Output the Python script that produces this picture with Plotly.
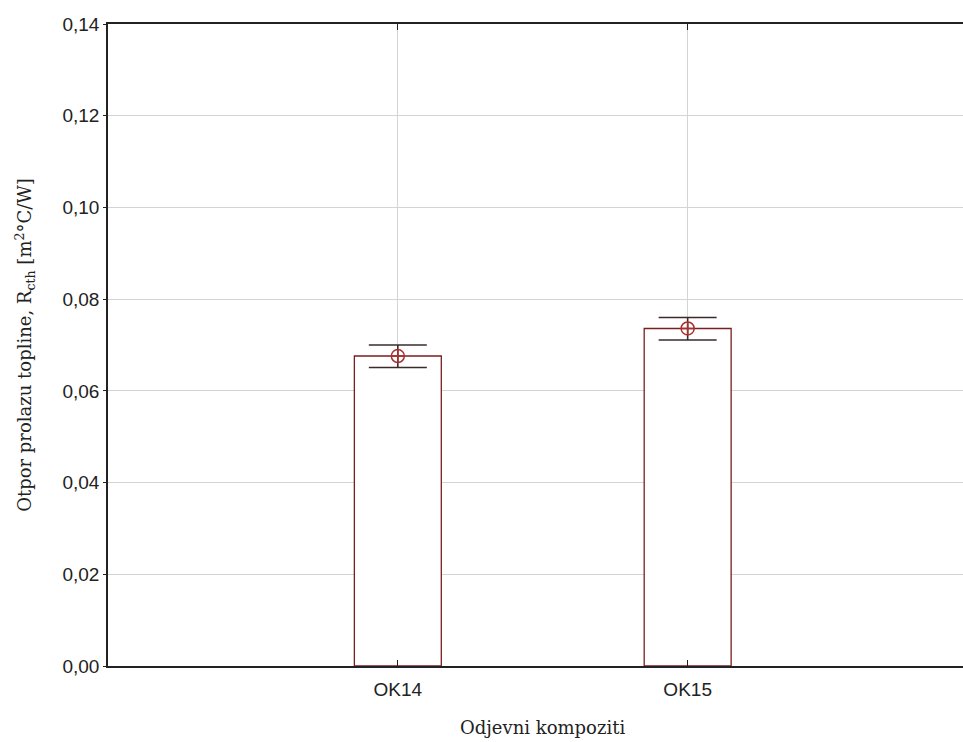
import plotly.graph_objects as go

categories = ["OK14", "OK15"]
means = [0.0676, 0.0736]
err_plus = [0.0024, 0.0024]
err_minus = [0.0025, 0.0025]
y_ticks = [0.0, 0.02, 0.04, 0.06, 0.08, 0.10, 0.12, 0.14]

x_pos = list(range(len(categories)))

fig = go.Figure()
fig.add_trace(go.Bar(
    x=x_pos, y=means, width=0.3,
    marker=dict(color="white", line=dict(color="#7a1f1f", width=1.3)),
    showlegend=False, hoverinfo="skip",
))
fig.add_trace(go.Scatter(
    x=x_pos, y=means, mode="markers",
    marker=dict(symbol="circle-cross-open", size=13, color="#a83030", line=dict(width=1.5)),
    error_y=dict(type="data", array=err_plus, arrayminus=err_minus, symmetric=False,
                 color="#3d2b2b", thickness=1.6, width=29),
    showlegend=False,
))

serif = "DejaVu Serif, Liberation Serif"
fig.update_layout(
    width=963, height=742,
    margin=dict(l=108, r=0, t=24, b=76),
    paper_bgcolor="white", plot_bgcolor="white",
    separators=",.",
    font=dict(family="Liberation Sans, Arial", size=19, color="#222"),
    annotations=[dict(
        text="Odjevni kompoziti", x=0.5, xref="x", y=-(728 - 666) / (666 - 24), yref="paper",
        showarrow=False, font=dict(family=serif, size=18, color="#222"),
        xanchor="center", yanchor="middle",
    )],
)

fig.update_xaxes(
    range=[-1, 1.95], tickvals=x_pos, ticktext=categories,
    showgrid=True, gridcolor="#d4d4d4", gridwidth=1,
    showline=True, linecolor="#222", linewidth=1.5, mirror="ticks",
    ticks="inside", ticklen=6, tickcolor="#222", ticklabelstandoff=5,
    tickfont=dict(family="Liberation Sans, Arial", size=19, color="#222"),
    zeroline=False,
)
fig.update_yaxes(
    range=[0, 0.14], tickvals=y_ticks, tickformat=".2f",
    showgrid=True, gridcolor="#d4d4d4", gridwidth=1,
    showline=True, linecolor="#222", linewidth=1.5,
    ticks="outside", ticklen=3, tickcolor="#222",
    tickfont=dict(family="Liberation Sans, Arial", size=19, color="#222"),
    title=dict(text="Otpor prolazu topline, R<sub>cth</sub> [m<sup>2</sup>°C/W]", standoff=26,
               font=dict(family=serif, size=18, color="#222")),
    zeroline=False,
)

fig.write_html(
    "out.html",
    config={"displayModeBar": False},
    post_script="document.body.style.margin='0';document.documentElement.style.overflow='hidden';document.body.style.overflow='hidden';",
)
